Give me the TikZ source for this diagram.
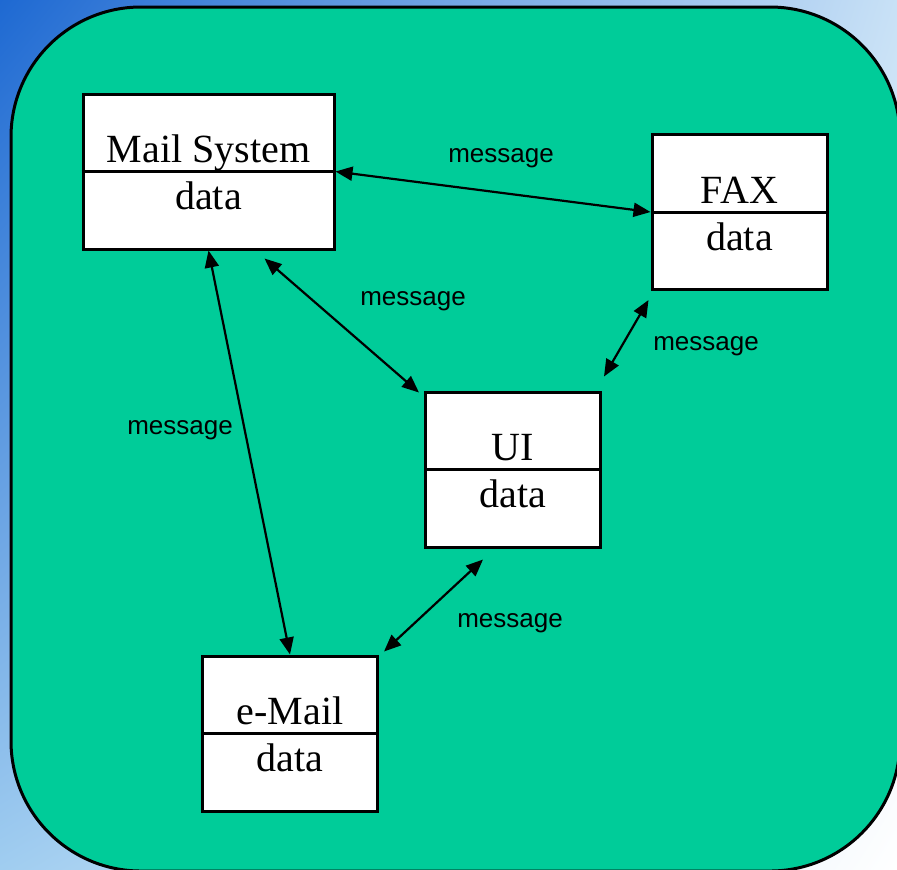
\documentclass[tikz,border=0pt]{standalone}
\usepackage{fontspec}
\setmainfont{Liberation Serif}
\newfontfamily\msgfont{Liberation Sans}
\usetikzlibrary{calc,arrows.meta,positioning,shadings}
\definecolor{slidegreen}{RGB}{0,204,153}
\definecolor{deepblue}{RGB}{30,105,210}
\definecolor{paleblue}{RGB}{160,205,240}
\definecolor{mistblue}{RGB}{200,225,246}

\begin{document}
\begin{tikzpicture}[x=0.5pt,y=-0.5pt,
  box/.style={rectangle, draw=black, fill=white, line width=1.5pt, minimum width=87.5pt, minimum height=77.5pt, inner sep=0pt},
  boxtitle/.style={anchor=base, inner sep=0pt, font=\fontsize{20}{24}\selectfont},
  boxdata/.style={anchor=base, inner sep=0pt, font=\fontsize{20}{24}\selectfont},
  msg/.style={anchor=base, inner sep=0pt, font=\msgfont\fontsize{13}{15}\selectfont},
  link/.style={line width=1.1pt, {Triangle[length=8.5pt,width=7pt]}-{Triangle[length=8.5pt,width=7pt]}}
]
  \useasboundingbox (0,0) rectangle (897,869);
  \clip (0,0) rectangle (897,869);
  \shade[upper left=deepblue, lower left=paleblue, upper right=mistblue, lower right=white] (0,0) rectangle (897,869);
  \draw[fill=slidegreen, line width=1.5pt, rounded corners=65pt] (11,7) rectangle (900,871);

  % classes
  \node[box, minimum width=125.5pt] (mail) at (208.5,171.5) {};
  \node[box] (fax) at (739.5,212) {};
  \node[box] (ui) at (513,469.5) {};
  \node[box] (email) at (290,733.5) {};

  \foreach \cls/\title in {mail/Mail System, fax/FAX, ui/UI, email/e-Mail} {
    \draw[line width=1.5pt] (\cls.west) -- (\cls.east);
    \node[boxtitle] (\cls-title) at ($(\cls.center)+(0,-9)$) {\title};
    \node[boxdata] (\cls-data) at ($(\cls.center)+(0,38)$) {data};
  }

  % messages
  \draw[link] (mail.east) -- (fax.west);
  \draw[link] ([shift={(56,8)}]mail.south) -- ([shift={(-5,2)}]ui.north west);
  \draw[link] (mail.south) -- (email.north);
  \draw[link] ([shift={(-2,9)}]fax.south west) -- ([shift={(2,-14)}]ui.north east);
  \draw[link] ([shift={(-30,11)}]ui.south) -- ([shift={(5,-3)}]email.north east);

  \node[msg] (m1) at (501,162) {message};
  \node[msg] (m2) at (413,305) {message};
  \node[msg] (m3) at (180,434) {message};
  \node[msg] (m4) at (706,350) {message};
  \node[msg] (m5) at (510,627) {message};
\end{tikzpicture}
\end{document}
